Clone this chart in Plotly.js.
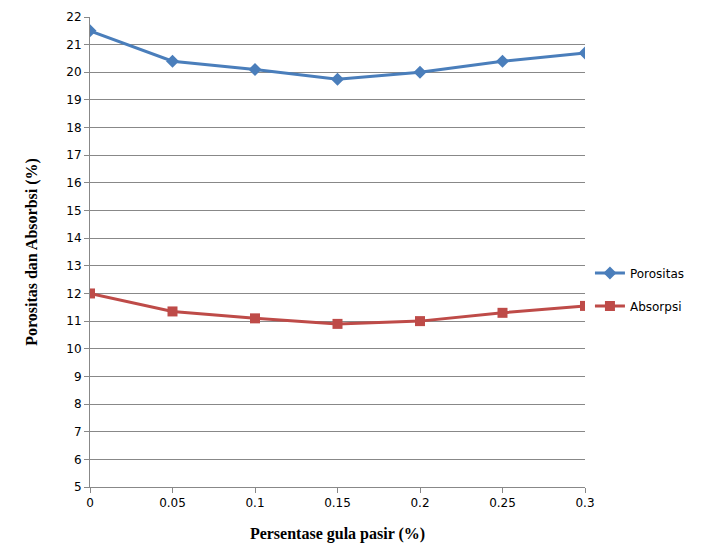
<!DOCTYPE html>
<html><head><meta charset="utf-8">
<script src="https://cdn.plot.ly/plotly-3.0.1.min.js"></script>
<style>body{margin:0;background:#fff}</style>
</head><body>
<div id="chart" style="width:718px;height:559px"></div>
<script>
var persentase = [0, 0.05, 0.1, 0.15, 0.2, 0.25, 0.3];
var porositas = [21.5, 20.4, 20.1, 19.75, 20.0, 20.4, 20.7];
var absorpsi = [12.0, 11.35, 11.1, 10.9, 11.0, 11.3, 11.55];

var trace1 = {
    x: persentase, y: porositas, type: 'scatter', mode: 'lines+markers', name: 'Porositas', legendgroup: 'a',
    line: {color: '#4a7ebb', width: 3}, marker: {symbol: 'diamond', size: 10, color: '#4a7ebb'}
};
var trace2 = {
    x: persentase, y: absorpsi, type: 'scatter', mode: 'lines+markers', name: 'Absorpsi', legendgroup: 'b',
    line: {color: '#be4b48', width: 3}, marker: {symbol: 'square', size: 10, color: '#be4b48'}
};
var layout = {
    width: 718, height: 559,
    margin: {l: 90, r: 133, t: 17, b: 72},
    font: {family: 'DejaVu Sans', size: 12, color: '#000'},
    showlegend: true,
    legend: {x: 1.01, y: 0.42, yanchor: 'middle', font: {size: 12}, tracegroupgap: 14},
    xaxis: {
        range: [0, 0.3], tickvals: persentase, ticktext: ['0','0.05','0.1','0.15','0.2','0.25','0.3'],
        showgrid: false, zeroline: false, showline: true, linecolor: '#888', ticks: 'outside', ticklen: 5, tickcolor: '#888',
        title: {text: '<b>Persentase gula pasir (%)</b>', font: {family: 'Liberation Serif', size: 16}, standoff: 18}
    },
    yaxis: {
        range: [5, 22], dtick: 1, showgrid: true, gridcolor: '#888', zeroline: false,
        showline: true, linecolor: '#888', ticks: 'outside', ticklen: 5, tickcolor: '#888',
        title: {text: '<b>Porositas dan Absorbsi (%)</b>', font: {family: 'Liberation Serif', size: 16}, standoff: 24}
    },
    plot_bgcolor: '#fff', paper_bgcolor: '#fff'
};
Plotly.newPlot('chart', [trace1, trace2], layout, {displayModeBar: false});
</script>
</body></html>
